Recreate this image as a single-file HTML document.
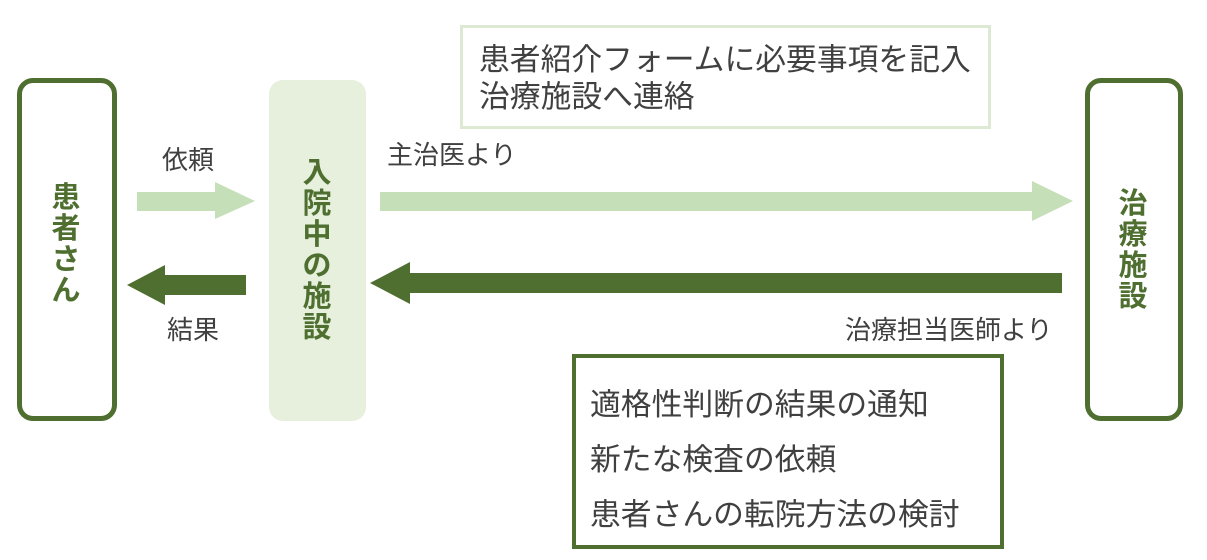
<!DOCTYPE html>
<html><head><meta charset="utf-8"><style>
body{margin:0;width:1207px;height:560px;background:#fff;position:relative;overflow:hidden;font-family:"Liberation Sans","Noto Sans CJK JP",sans-serif;}
.a{position:absolute;box-sizing:border-box}
.v{position:absolute;font-weight:bold;color:#4f6f30;font-size:29px;line-height:31px;width:40px;text-align:center}
.t{position:absolute;color:#404040;white-space:nowrap}
.s{font-size:26px;line-height:38px}
</style></head><body>
<div class="a" style="left:17px;top:78px;width:100px;height:343px;border:5px solid #4f6f30;border-radius:16px"></div>
<div class="a" style="left:269px;top:80px;width:97px;height:341px;background:#e6f0dc;border-radius:14px"></div>
<div class="a" style="left:1085px;top:78px;width:98px;height:343px;border:5px solid #4f6f30;border-radius:16px"></div>
<div class="a" style="left:460px;top:25px;width:531px;height:104px;border:3px solid #dde9d2"></div>
<div class="a" style="left:572px;top:354px;width:432px;height:195px;border:4px solid #4f6f30"></div>
<svg class="a" style="left:0;top:0" width="1207" height="560">
<polygon points="137,192 215,192 215,182 255,201 215,219 215,211 137,211" fill="#c5dfb8"/>
<polygon points="246,275 165,275 165,265 127,285 165,305 165,295 246,295" fill="#4f6f30"/>
<polygon points="380,192 1032,192 1032,181 1073,201 1032,221 1032,211 380,211" fill="#c5dfb8"/>
<polygon points="1062,273 410,273 410,262 370,283 410,304 410,293 1062,293" fill="#4f6f30"/>
</svg>
<div class="v" style="left:46px;top:183px">患者さん</div>
<div class="v" style="left:297px;top:158px">入院中の施設</div>
<div class="v" style="left:1113px;top:189px">治療施設</div>
<div class="t s" style="left:162px;top:141px">依頼</div>
<div class="t s" style="left:167px;top:311px">結果</div>
<div class="t s" style="left:387px;top:136px">主治医より</div>
<div class="t s" style="left:845px;top:311px">治療担当医師より</div>
<div class="t" style="left:479px;top:41px;font-size:30.8px;line-height:37px">患者紹介フォームに必要事項を記入<br>治療施設へ連絡</div>
<div class="t" style="left:590px;top:377px;font-size:30.8px;line-height:55px">適格性判断の結果の通知<br>新たな検査の依頼<br>患者さんの転院方法の検討</div>
</body></html>
